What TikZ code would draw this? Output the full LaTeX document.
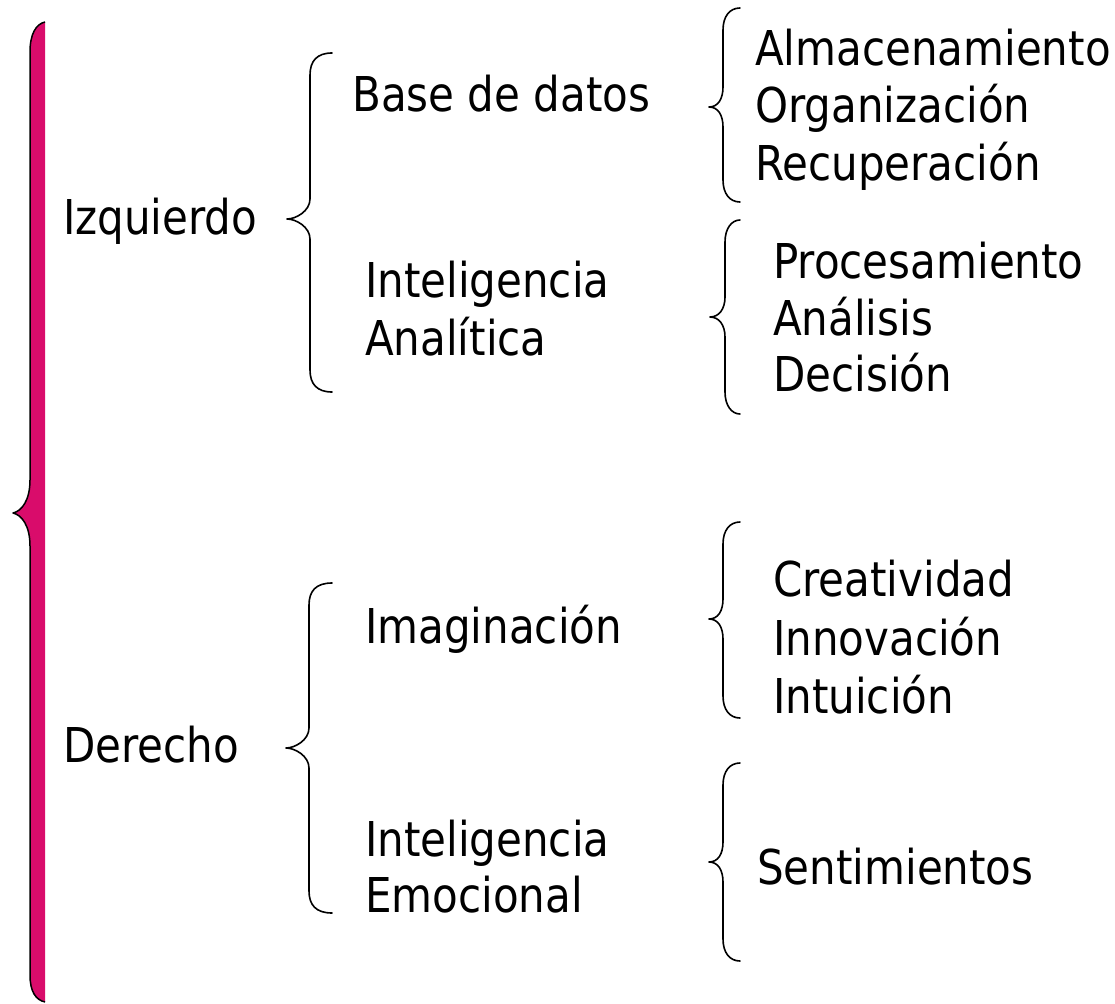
\documentclass[tikz,border=0pt]{standalone}
\usepackage{fontspec}
\setmainfont{DejaVu Sans}[FakeStretch=0.875]
\definecolor{braceMag}{RGB}{217,12,107}
\newcommand{\mybrace}[6]{%
  \draw[bracestroke] (#1,#4) .. controls (#2+7,#4) and (#2,#4+8) .. (#2,#4+22)
    -- (#2,#5-20) .. controls (#2,#5-8) and (#3+9,#5) .. (#3,#5)
    .. controls (#3+9,#5) and (#2,#5+8) .. (#2,#5+20)
    -- (#2,#6-22) .. controls (#2,#6-8) and (#2+7,#6) .. (#1,#6);}
\begin{document}
\begin{tikzpicture}[x=1pt,y=-1pt,
  txt/.style={anchor=base west, inner sep=0pt, font=\fontsize{48}{57}\selectfont},
  bracestroke/.style={line width=1.6pt, line join=round, line cap=round}]
\useasboundingbox (0,0) rectangle (1115,1003);
% big magenta brace
\fill[braceMag] (45,22) .. controls (36,24) and (30,34) .. (30,52) -- (30,480)
  .. controls (30,500) and (22,511) .. (13,513) .. controls (22,515) and (30,526) .. (30,546)
  -- (30,975) .. controls (30,992) and (36,1000) .. (45,1002) -- cycle;
\draw[line width=1.5pt, line join=round] (45,22) .. controls (36,24) and (30,34) .. (30,52) -- (30,480)
  .. controls (30,500) and (22,511) .. (13,513) .. controls (22,515) and (30,526) .. (30,546)
  -- (30,975) .. controls (30,992) and (36,1000) .. (45,1002);
% level 1
\node[txt] (izq) at (63,234) {Izquierdo};
\node[txt] (der) at (63,762) {Derecho};
% level 2
\node[txt] (bd) at (352,112) {Base de datos};
\node[txt] (ia1) at (365,297) {Inteligencia};
\node[txt] (ia2) at (365,355) {Analítica};
\node[txt] (ima) at (365,643) {Imaginación};
\node[txt] (ie1) at (365,856) {Inteligencia};
\node[txt] (ie2) at (365,912) {Emocional};
% level 3
\node[txt] (alm) at (755,66) {Almacenamiento};
\node[txt] (org) at (755,123) {Organización};
\node[txt] (rec) at (755,180) {Recuperación};
\node[txt] (pro) at (773,278) {Procesamiento};
\node[txt] (ana) at (773,335) {Análisis};
\node[txt] (dec) at (773,391) {Decisión};
\node[txt] (cre) at (773,596) {Creatividad};
\node[txt] (inn) at (773,655) {Innovación};
\node[txt] (int) at (773,713) {Intuición};
\node[txt] (sen) at (757,884) {Sentimientos};
% braces
\mybrace{332}{310}{287}{53}{219}{392}
\mybrace{332}{309}{286}{583}{748}{913}
\mybrace{740}{723}{709}{8}{107}{202}
\mybrace{740}{725}{710}{220}{317}{414}
\mybrace{740}{723}{709}{522}{619}{718}
\mybrace{740}{723}{709}{763}{862}{961}
\end{tikzpicture}
\end{document}
